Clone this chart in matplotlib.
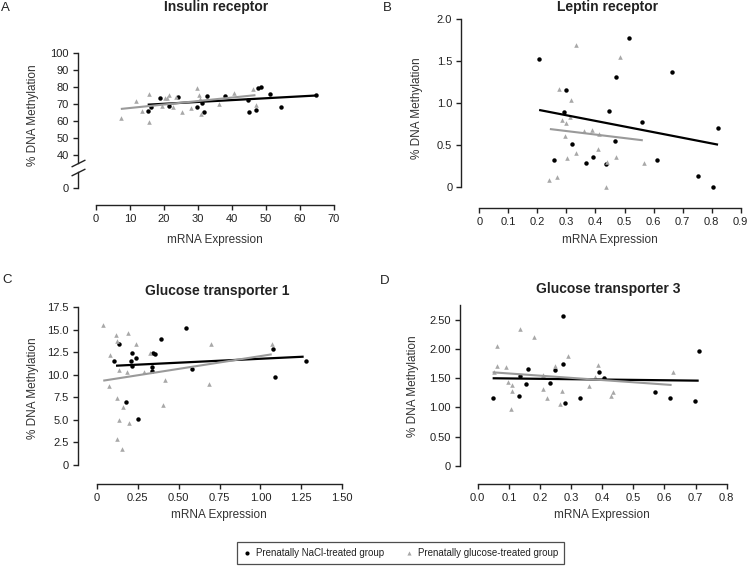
import matplotlib.pyplot as plt
from matplotlib.lines import Line2D

plt.rcParams['font.family'] = ['Liberation Sans', 'DejaVu Sans']

# A - insulin receptor
ins_nacl_x = [15.2, 16.2, 18.8, 21.5, 24.2, 29.8, 31.3, 31.9, 32.7, 37.8, 44.6, 45.0, 47.1, 47.7, 48.4, 51.1, 54.4, 64.8]
ins_nacl_y = [65.7, 68.0, 73.5, 68.6, 73.9, 68.0, 70.4, 65.1, 74.5, 74.8, 72.3, 65.0, 66.4, 79.4, 79.9, 75.9, 68.2, 75.1]
ins_glc_x = [7.3, 11.8, 13.4, 15.5, 15.7, 19.4, 20.3, 20.8, 21.6, 22.6, 23.6, 25.4, 27.8, 29.8, 30.3, 30.6, 30.9, 36.3, 40.7, 46.2, 47.0]
ins_glc_y = [62.0, 71.7, 65.6, 75.6, 59.5, 68.9, 73.4, 73.8, 75.4, 68.5, 74.4, 65.0, 67.5, 79.3, 75.0, 73.2, 64.2, 70.1, 76.6, 78.6, 69.3]
ins_fit_nacl = ([15.2, 64.8], [69.6, 75.0])
ins_fit_glc = ([7.3, 46.9], [67.1, 75.2])

# B - leptin receptor
lep_nacl_x = [0.206, 0.299, 0.290, 0.318, 0.256, 0.366, 0.393, 0.436, 0.448, 0.467, 0.470, 0.514, 0.561, 0.613, 0.664, 0.753, 0.806, 0.823]
lep_nacl_y = [1.52, 1.15, 0.89, 0.51, 0.32, 0.28, 0.36, 0.27, 0.90, 0.55, 1.31, 1.77, 0.77, 0.32, 1.37, 0.13, 0.0, 0.70]
lep_glc_x = [0.332, 0.484, 0.276, 0.315, 0.284, 0.299, 0.312, 0.294, 0.360, 0.388, 0.413, 0.332, 0.301, 0.410, 0.441, 0.472, 0.568, 0.241, 0.269, 0.436]
lep_glc_y = [1.69, 1.55, 1.17, 1.04, 0.80, 0.76, 0.83, 0.61, 0.67, 0.68, 0.635, 0.40, 0.34, 0.45, 0.30, 0.36, 0.28, 0.08, 0.115, 0.0]
lep_fit_nacl = ([0.206, 0.822], [0.917, 0.504])
lep_fit_glc = ([0.243, 0.563], [0.690, 0.556])

# C - glucose transporter 1
glut1_nacl_x = [0.136, 0.106, 0.216, 0.208, 0.242, 0.214, 0.179, 0.250, 0.393, 0.346, 0.358, 0.340, 0.336, 0.546, 0.584, 1.077, 1.089, 1.280]
glut1_nacl_y = [13.43, 11.54, 12.46, 11.54, 11.91, 10.99, 6.99, 5.07, 14.02, 12.46, 12.32, 10.84, 10.47, 15.17, 10.65, 12.91, 9.73, 11.51]
glut1_glc_x = [0.040, 0.118, 0.122, 0.189, 0.240, 0.081, 0.138, 0.183, 0.077, 0.124, 0.163, 0.136, 0.197, 0.124, 0.155, 0.326, 0.291, 0.419, 0.407, 0.696, 0.684, 1.071]
glut1_glc_y = [15.57, 14.39, 13.76, 14.68, 13.43, 12.17, 10.54, 10.28, 8.80, 7.47, 6.47, 5.03, 4.70, 2.92, 1.78, 12.43, 10.28, 9.43, 6.66, 13.43, 8.95, 13.43]
glut1_fit_nacl = ([0.118, 1.264], [11.02, 12.02])
glut1_fit_glc = ([0.040, 1.069], [9.36, 12.28])

# D - glucose transporter 3
glut3_nacl_x = [0.048, 0.136, 0.133, 0.154, 0.161, 0.231, 0.249, 0.275, 0.275, 0.280, 0.329, 0.390, 0.407, 0.571, 0.618, 0.699, 0.710]
glut3_nacl_y = [1.167, 1.534, 1.196, 1.407, 1.659, 1.419, 1.647, 2.569, 1.750, 1.081, 1.156, 1.613, 1.505, 1.270, 1.156, 1.115, 1.968]
glut3_glc_x = [0.053, 0.061, 0.063, 0.090, 0.098, 0.111, 0.110, 0.106, 0.137, 0.182, 0.211, 0.222, 0.210, 0.249, 0.271, 0.266, 0.289, 0.359, 0.377, 0.387, 0.427, 0.436, 0.626]
glut3_glc_y = [1.60, 2.054, 1.705, 1.694, 1.436, 1.385, 1.276, 0.968, 2.340, 2.208, 1.311, 1.162, 1.56, 1.705, 1.287, 1.053, 1.877, 1.368, 1.517, 1.723, 1.201, 1.270, 1.603]
glut3_fit_nacl = ([0.048, 0.710], [1.500, 1.459])
glut3_fit_glc = ([0.048, 0.623], [1.602, 1.385])

legend_labels = ['Prenatally NaCl-treated group', 'Prenatally glucose-treated group']

W, H = 750, 567
PT = 0.72  # points per pixel at dpi 100
DARK = '#222222'
GREY_PT = '#a8a8a8'
GREY_LN = '#9a9a9a'

fig = plt.figure(figsize=(7.5, 5.67), dpi=100)


def add_px_axes(left, top, right, bottom):
    return fig.add_axes([left / W, 1 - bottom / H, (right - left) / W, (bottom - top) / H])


def style(ax, left_out, bottom_out):
    ax.spines['top'].set_visible(False)
    ax.spines['right'].set_visible(False)
    ax.spines['left'].set_position(('outward', left_out * PT))
    ax.spines['bottom'].set_position(('outward', bottom_out * PT))
    for s in ('left', 'bottom'):
        ax.spines[s].set_linewidth(1.0)
        ax.spines[s].set_color(DARK)
    ax.tick_params(direction='out', length=3.5, width=1.0, pad=3, labelsize=8,
                   colors=DARK)
    ax.patch.set_alpha(0)


def draw(ax, nx, ny, gx, gy, fit_n, fit_g):
    ax.plot(nx, ny, 'o', color='black', ms=3.2, mew=0, clip_on=False)
    ax.plot(gx, gy, '^', color=GREY_PT, ms=3.3, mew=0, clip_on=False)
    ax.plot(fit_n[0], fit_n[1], color='black', lw=1.6, solid_capstyle='butt')
    ax.plot(fit_g[0], fit_g[1], color=GREY_LN, lw=1.5, solid_capstyle='butt')


def labels(title, tx, ty, letter, lx, ly, ylx, yly, xlx, xly):
    fig.text(tx / W, 1 - ty / H, title, ha='center', va='center', fontsize=10,
             fontweight='bold', color=DARK)
    fig.text(lx / W, 1 - ly / H, letter, ha='center', va='center', fontsize=9.5,
             color=DARK)
    fig.text(ylx / W, 1 - yly / H, '% DNA Methylation', rotation=90, ha='center',
             va='center', fontsize=8.5, color='#333333')
    fig.text(xlx / W, 1 - xly / H, 'mRNA Expression', ha='center', va='center',
             fontsize=8.5, color='#333333')


# ---- A (broken y axis) ----
axA = add_px_axes(96, 53, 334, 163)
axA0 = add_px_axes(96, 172, 334, 188)
style(axA, 18, 0)
style(axA0, 18, 17)
axA.spines['bottom'].set_visible(False)
axA.tick_params(axis='x', bottom=False, labelbottom=False)
axA.set_xlim(0, 70)
axA.set_ylim(100 - 110 / 1.7, 100)
axA.set_yticks(range(40, 101, 10))
axA0.set_xlim(0, 70)
axA0.set_ylim(0, 16 / 1.7)
axA0.set_yticks([0])
axA0.set_xticks(range(0, 71, 10))
draw(axA, ins_nacl_x, ins_nacl_y, ins_glc_x, ins_glc_y, ins_fit_nacl, ins_fit_glc)
brk = dict(marker=[(-1, -0.5), (1, 0.5)], markersize=10, linestyle='none',
           color=DARK, mec=DARK, mew=1.0, clip_on=False)
axA.plot([-18 / 238], [0], transform=axA.transAxes, **brk)
axA0.plot([-18 / 238], [1], transform=axA0.transAxes, **brk)
labels('Insulin receptor', 216, 7, 'A', 5, 8, 33, 115, 215, 240)

# ---- B ----
axB = add_px_axes(479.3, 19, 740.7, 187)
style(axB, 18, 21)
axB.set_xlim(0, 0.9)
axB.set_ylim(0, 2.0)
axB.set_yticks([0, 0.5, 1.0, 1.5, 2.0])
axB.set_yticklabels(['0', '0.5', '1.0', '1.5', '2.0'])
axB.set_xticks([i / 10 for i in range(10)])
axB.set_xticklabels(['0'] + ['%.1f' % (i / 10) for i in range(1, 10)])
draw(axB, lep_nacl_x, lep_nacl_y, lep_glc_x, lep_glc_y, lep_fit_nacl, lep_fit_glc)
labels('Leptin receptor', 608, 7, 'B', 387, 8, 417, 108, 610, 240)

# ---- C ----
axC = add_px_axes(96.7, 307.3, 342.3, 465)
style(axC, 18.7, 19)
axC.set_xlim(0, 1.5)
axC.set_ylim(0, 17.5)
yt = [i * 2.5 for i in range(8)]
axC.set_yticks(yt)
axC.set_yticklabels(['0'] + ['%.1f' % v for v in yt[1:]])
xt = [i * 0.25 for i in range(7)]
axC.set_xticks(xt)
axC.set_xticklabels(['0'] + ['%.2f' % v for v in xt[1:]])
draw(axC, glut1_nacl_x, glut1_nacl_y, glut1_glc_x, glut1_glc_y, glut1_fit_nacl, glut1_fit_glc)
labels('Glucose transporter 1', 217, 291, 'C', 7, 280, 33, 388, 219, 515)

# ---- D ----
axD = add_px_axes(477.7, 305.4, 726.7, 465.7)
style(axD, 17.7, 18.3)
axD.set_xlim(0, 0.8)
axD.set_ylim(0, 2.75)
yt = [0, 0.5, 1.0, 1.5, 2.0, 2.5]
axD.set_yticks(yt)
axD.set_yticklabels(['0'] + ['%.2f' % v for v in yt[1:]])
axD.set_xticks([i / 10 for i in range(9)])
axD.set_xticklabels(['%.1f' % (i / 10) for i in range(9)])
draw(axD, glut3_nacl_x, glut3_nacl_y, glut3_glc_x, glut3_glc_y, glut3_fit_nacl, glut3_fit_glc)
labels('Glucose transporter 3', 608, 289, 'D', 385, 281, 413, 386, 602, 515)

# ---- legend ----
handles = [Line2D([], [], marker='o', ls='none', color='black', ms=3, mew=0),
           Line2D([], [], marker='^', ls='none', color=GREY_PT, ms=3, mew=0)]
leg = fig.legend(handles, legend_labels, loc='center', ncol=2,
                 bbox_to_anchor=(400.5 / W, 1 - 553 / H), fontsize=7,
                 frameon=True, fancybox=False, edgecolor=DARK, handlelength=0.8,
                 handletextpad=0.5, columnspacing=2.2, borderpad=0.6)
leg.get_frame().set_linewidth(0.9)
for t in leg.get_texts():
    t.set_color(DARK)

fig.savefig('out.png', dpi=100)
